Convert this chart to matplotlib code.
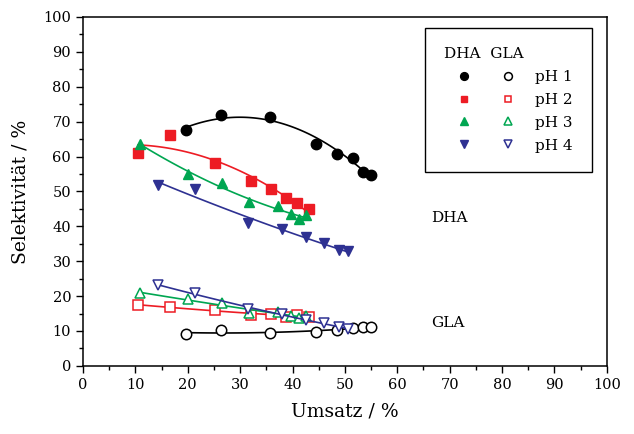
import numpy as np
import matplotlib
matplotlib.use("Agg")
from matplotlib import pyplot as plt
from matplotlib.legend_handler import HandlerTuple
from matplotlib.ticker import MultipleLocator

plt.rcParams['font.family'] = ['DejaVu Serif']

# Umsatz (%) per pH series - same experiments for DHA and GLA
x_ph1 = [19.7, 26.3, 35.7, 44.5, 48.5, 51.5, 53.4, 55.0]
x_ph2 = [10.5, 16.6, 25.2, 32.1, 35.9, 38.7, 40.8, 43.1]
x_ph3 = [10.9, 20.0, 26.5, 31.7, 37.2, 39.7, 41.2, 42.6]
x_ph4 = [14.3, 21.4, 31.5, 38.0, 42.6, 46.0, 48.9, 50.6]

# Selektivitaet DHA (%)
dha_ph1 = [67.5, 72.0, 71.4, 63.7, 60.6, 59.7, 55.7, 54.6]
dha_ph2 = [61.1, 66.3, 58.0, 53.1, 50.6, 48.0, 46.6, 44.9]
dha_ph3 = [63.7, 54.9, 52.3, 47.1, 45.7, 43.4, 42.0, 43.1]
dha_ph4 = [51.7, 50.6, 40.9, 39.1, 36.9, 35.1, 33.1, 32.9]

# Selektivitaet GLA (%)
gla_ph1 = [9.1, 10.2, 9.4, 9.8, 10.2, 10.8, 11.1, 11.1]
gla_ph2 = [17.4, 16.9, 16.0, 14.6, 14.9, 14.0, 14.6, 14.0]
gla_ph3 = [20.9, 19.1, 18.0, 15.1, 15.4, 14.3, 13.7, 14.3]
gla_ph4 = [23.1, 20.9, 16.3, 14.9, 13.1, 12.3, 11.1, 10.6]

labels = ['pH 1', 'pH 2', 'pH 3', 'pH 4']
colors = ['black', '#ED1C24', '#00A651', '#2E3192']
markers = ['o', 's', '^', 'v']
msizes = [7.5, 6.5, 7.5, 7.5]

xs = [x_ph1, x_ph2, x_ph3, x_ph4]
dha = [dha_ph1, dha_ph2, dha_ph3, dha_ph4]
gla = [gla_ph1, gla_ph2, gla_ph3, gla_ph4]

fig = plt.figure(figsize=(6.34, 4.34), dpi=100)
ax = fig.add_axes([0.131, 0.157, 0.826, 0.804])

dha_h = []
gla_h = []
for x, yd, yg, c, m, ms in zip(xs, dha, gla, colors, markers, msizes):
    x = np.array(x)
    xx = np.linspace(x.min(), x.max(), 100)
    # quadratic trend lines
    ax.plot(xx, np.polyval(np.polyfit(x, yd, 2), xx), color=c, lw=1.2)
    ax.plot(xx, np.polyval(np.polyfit(x, yg, 2), xx), color=c, lw=1.2)
    h1, = ax.plot(x, yd, ls='none', marker=m, ms=ms, color=c, mec=c)
    h2, = ax.plot(x, yg, ls='none', marker=m, ms=ms, mfc='white', mec=c, mew=1.1)
    dha_h.append(h1)
    gla_h.append(h2)

ax.text(66.5, 42.3, 'DHA', fontsize=11, va='center')
ax.text(66.5, 12.3, 'GLA', fontsize=11, va='center')

ax.set_xlim(0, 100)
ax.set_ylim(0, 100)
ax.xaxis.set_major_locator(MultipleLocator(10))
ax.xaxis.set_minor_locator(MultipleLocator(5))
ax.yaxis.set_major_locator(MultipleLocator(10))
ax.yaxis.set_minor_locator(MultipleLocator(5))
ax.tick_params(which='major', direction='out', length=5, width=1, labelsize=10.5)
ax.tick_params(which='minor', direction='out', length=3, width=1)
for s in ax.spines.values():
    s.set_linewidth(1.1)

ax.set_xlabel('Umsatz / %', fontsize=13.5, labelpad=8)
ax.set_ylabel('Selektivität / %', fontsize=13.5, labelpad=10)

leg = ax.legend(list(zip(dha_h, gla_h)), labels,
                handler_map={tuple: HandlerTuple(ndivide=None, pad=0.33)},
                handlelength=5.5, handletextpad=0.45, markerscale=0.75,
                title='DHA  GLA', title_fontsize=11, fontsize=11,
                alignment='left', loc='upper right',
                bbox_to_anchor=(0.971, 0.968), borderaxespad=0,
                borderpad=1.25, labelspacing=0.58,
                fancybox=False, framealpha=1, edgecolor='black')
leg.get_frame().set_linewidth(1.0)

fig.savefig('out.png', dpi=100)
